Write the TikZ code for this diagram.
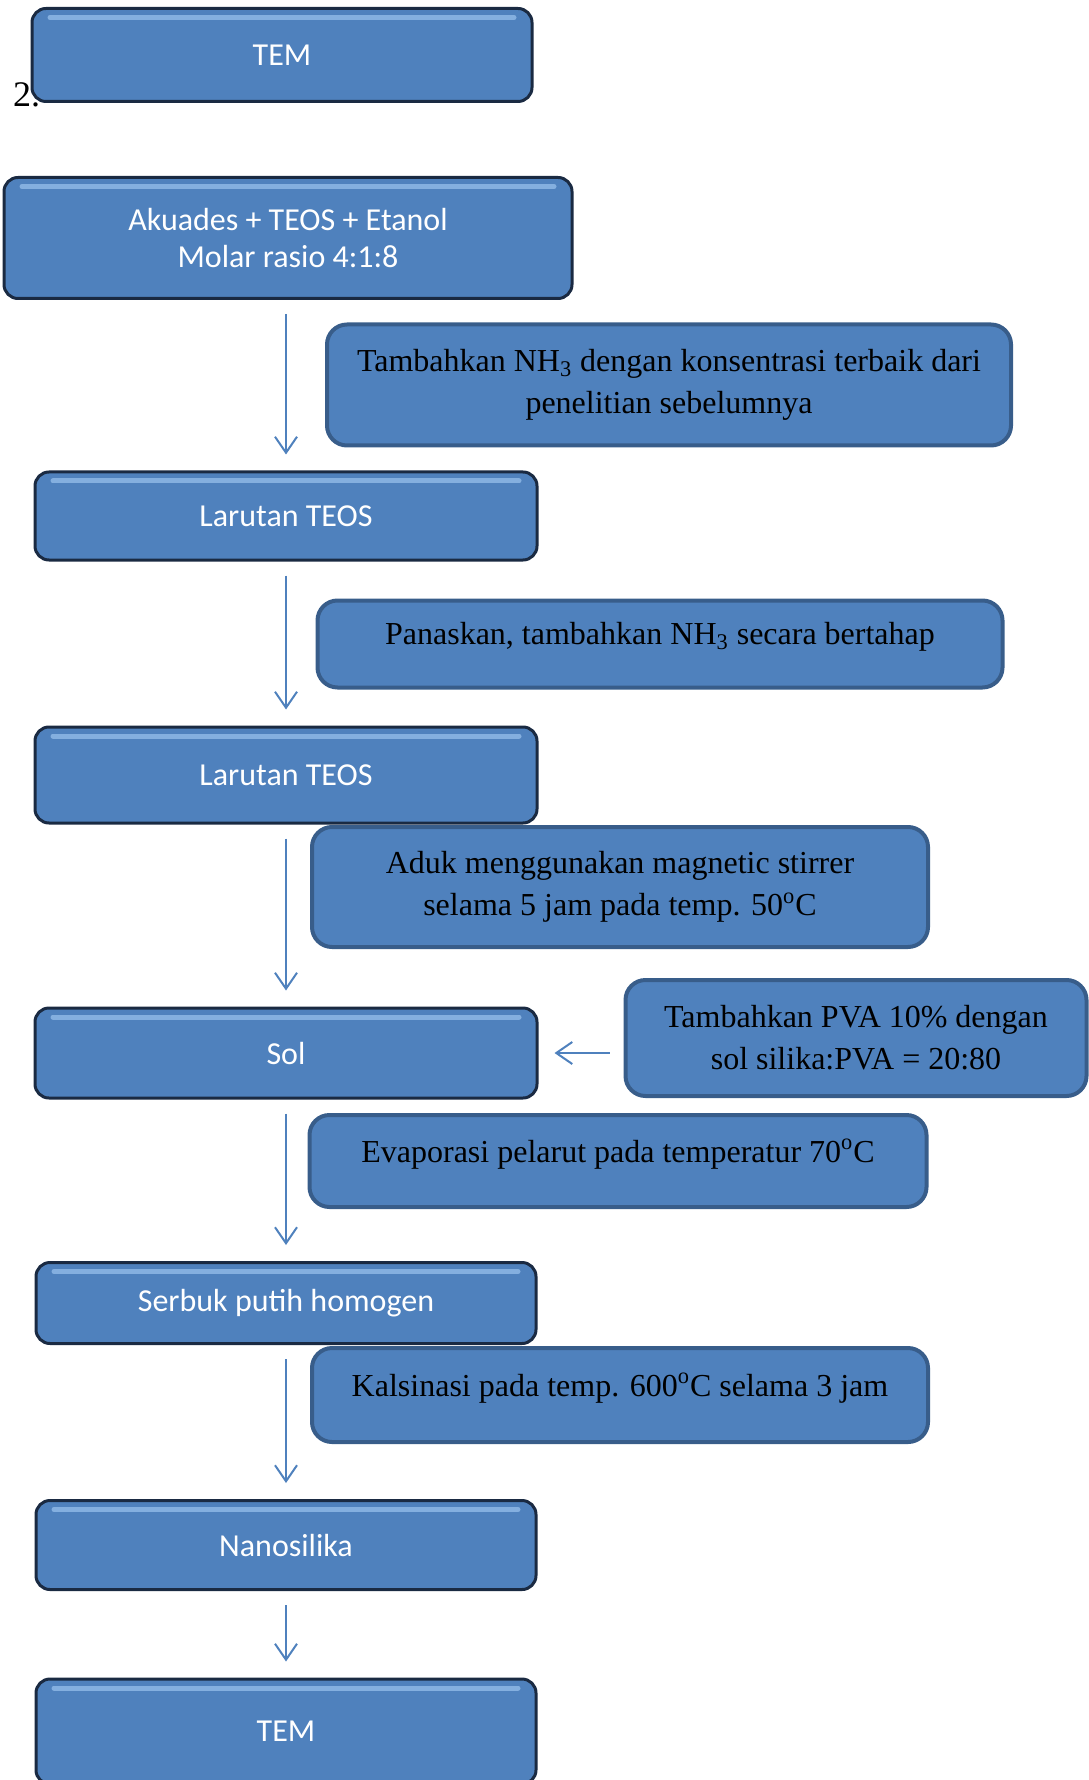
\documentclass[tikz,border=0pt]{standalone}
\usepackage{fontspec}
\setmainfont{Liberation Serif}
\newfontfamily\kotakfont{Carlito}
\usetikzlibrary{arrows.meta}

\definecolor{cor_kotak}{RGB}{79,129,189}
\definecolor{cor_tepi}{RGB}{26,42,66}
\definecolor{cor_tepi2}{RGB}{56,93,138}
\definecolor{cor_kilap}{RGB}{150,190,235}

\begin{document}
\begin{tikzpicture}[x=0.5pt,y=-0.5pt]
        \tikzset{
            kotak/.style 2 args={
                draw=cor_tepi,
                fill=cor_kotak,
                line width=1.5pt,
                rounded corners=7pt,
                text=white,
                align=center,
                inner sep=0pt,
                font=\kotakfont\fontsize{16}{18.75}\selectfont,
                minimum width=#1,
                minimum height=#2,
                path picture={
                    \draw[cor_kilap!75!cor_kotak, line width=2.5pt, line cap=round]
                    ([xshift=9pt,yshift=-4.5pt]path picture bounding box.north west) --
                    ([xshift=-9pt,yshift=-4.5pt]path picture bounding box.north east);
                }
            },
            langkah/.style 2 args={
                draw=cor_tepi2,
                fill=cor_kotak,
                line width=2pt,
                rounded corners=10pt,
                align=center,
                inner sep=0pt,
                font=\fontsize{16}{21}\selectfont,
                minimum width=#1,
                minimum height=#2
            },
            naik/.style={text depth=10.5pt},
            panah/.style={
                cor_kotak,
                line width=1pt,
                -{Straight Barb[length=8pt,width=11pt]},
                shorten <=7pt,
                shorten >=8pt
            }
        }
        \useasboundingbox (0,0) rectangle (1088,1780);

        \node[anchor=base west, font=\fontsize{18}{21}\selectfont] (nomor) at (6,107) {2.};

        %kotak utama
        \node[kotak={250pt}{46.5pt}] (tem1) at (282,55) {TEM};
        \node[kotak={284pt}{60.5pt}] (akuades) at (288,238) {Akuades + TEOS + Etanol\\Molar rasio 4:1:8};
        \node[kotak={251pt}{44pt}] (teos1) at (286,516) {Larutan TEOS};
        \node[kotak={251pt}{48pt}] (teos2) at (286,775) {Larutan TEOS};
        \node[kotak={251pt}{45pt}] (sol) at (286,1053) {Sol};
        \node[kotak={250pt}{40.5pt}] (serbuk) at (286,1303) {Serbuk putih homogen};
        \node[kotak={250pt}{44.5pt}] (nano) at (286,1545) {Nanosilika};
        \node[kotak={250pt}{52.5pt}] (tem2) at (286,1731.5) {TEM};

        %kotak langkah
        \node[langkah={342pt}{60.5pt}] (nh3) at (669,385)
            {Tambahkan NH\textsubscript{3} dengan konsentrasi terbaik dari\\penelitian sebelumnya};
        \node[langkah={342.5pt}{43.5pt}, naik] (panas) at (660,644)
            {Panaskan, tambahkan NH\textsubscript{3} secara bertahap};
        \node[langkah={308pt}{60pt}] (aduk) at (620,887)
            {Aduk menggunakan magnetic stirrer\\selama 5 jam pada temp. 50\textsuperscript{o}C};
        \node[langkah={230.5pt}{58pt}] (pva) at (856,1038)
            {Tambahkan PVA 10\% dengan\\sol silika:PVA = 20:80};
        \node[langkah={308.5pt}{46pt}, naik] (evap) at (618,1161)
            {Evaporasi pelarut pada temperatur 70\textsuperscript{o}C};
        \node[langkah={308pt}{47pt}, naik] (kalsin) at (620,1395)
            {Kalsinasi pada temp. 600\textsuperscript{o}C selama 3 jam};

        %panah
        \draw[panah] (akuades.south -| teos1.north) -- (teos1.north);
        \draw[panah] (teos1.south) -- (teos2.north);
        \draw[panah] (teos2.south) -- (sol.north);
        \draw[panah] (sol.south) -- (serbuk.north);
        \draw[panah] (serbuk.south) -- (nano.north);
        \draw[panah] (nano.south) -- (tem2.north);
        \draw[panah] (pva.west |- sol.east) -- (sol.east);

    \end{tikzpicture}
\end{document}
